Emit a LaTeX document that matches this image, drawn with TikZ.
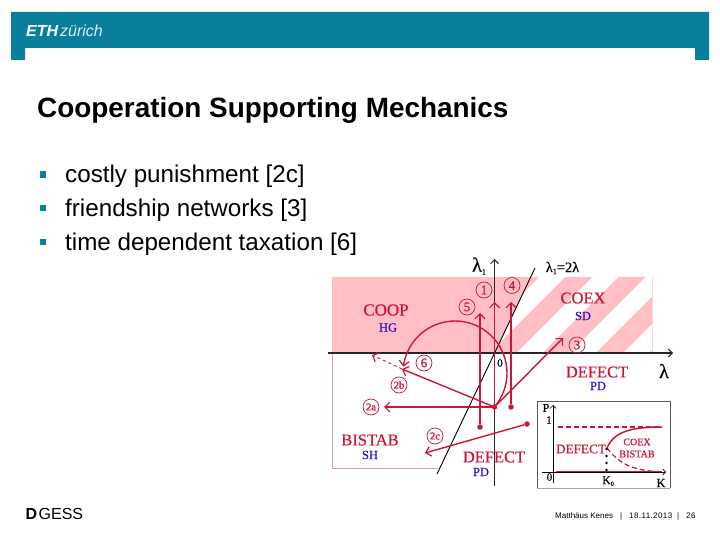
\documentclass[tikz,border=0pt]{standalone}
\usepackage{fontspec}
\setmainfont{Liberation Sans}
\newfontfamily\serf[FakeBold=0.5]{Liberation Serif}
\newfontfamily\serfb[FakeBold=1.2]{Liberation Serif}
\usetikzlibrary{arrows.meta}
\definecolor{teal}{HTML}{0A7F9B}
\definecolor{pinkfill}{HTML}{FFBFC5}
\definecolor{redd}{HTML}{CC1638}
\definecolor{bluee}{HTML}{2A10C8}
\definecolor{frameg}{HTML}{DE9CA2}
\tikzset{
 sertext/.style={inner sep=0pt,font=\serf\fontsize{#1}{#1}\selectfont},
 redtxt/.style={sertext=#1,text=redd},
 bluetxt/.style={sertext=#1,text=bluee},
 blacktxt/.style={sertext=#1,text=black},
 circ/.style={circle,draw=redd,line width=.7pt,minimum size=16pt,inner sep=0pt,text=redd,font=\serfb\fontsize{13}{13}\selectfont},
 circs/.style={circ,font=\serfb\fontsize{10.5}{10.5}\selectfont},
 arr/.style={draw=redd,line width=1.4pt,-{Straight Barb[length=5pt,width=10pt,line width=1.2pt]}},
 axis/.style={draw=black!85,line width=1.1pt,-{Straight Barb[length=4pt,width=8pt,line width=1pt]}},
 dotn/.style={circle,fill=redd,inner sep=0pt,minimum size=5.5pt},
 blk/.style={circle,fill=black,inner sep=0pt,minimum size=2.8pt},
 body/.style={inner sep=0pt,anchor=base west,font=\fontsize{24.2}{24.2}\selectfont},
 bul/.style={fill=teal,minimum size=6.5pt,inner sep=0pt},
 foot/.style={inner sep=0pt,anchor=base west,font=\fontsize{8}{8}\selectfont},
 foots/.style={foot,font=\fontsize{8}{8}\selectfont\addfontfeature{LetterSpace=5}},
}
\begin{document}
\begin{tikzpicture}[x=1pt,y=-1pt]
\useasboundingbox (0,0) rectangle (720,540);
\fill[white] (0,0) rectangle (720,540);
% header
\fill[teal] (11,12) -- (709,12) -- (709,60) -- (695,60) -- (695,48) -- (25,48) -- (25,60) -- (11,60) -- cycle;
\node[inner sep=0pt,anchor=base west,text=white,font=\bfseries\itshape\fontsize{16}{16}\selectfont] (eth) at (26,37) {ETH};
\node[inner sep=0pt,anchor=base west,text=white!85!teal,font=\itshape\fontsize{16}{16}\selectfont] (zur) at (60,37) {zürich};
% title and bullets
\node[inner sep=0pt,anchor=base west,font=\bfseries\fontsize{27.9}{27.9}\selectfont] (title) at (37,118) {Cooperation Supporting Mechanics};
\node[bul] (b1) at (43,174.5) {};
\node[bul] (b2) at (43,208) {};
\node[bul] (b3) at (43,242) {};
\node[body] (t1) at (65,183) {costly punishment [2c]};
\node[body] (t2) at (65,216.5) {friendship networks [3]};
\node[body] (t3) at (65,250) {time dependent taxation [6]};
% regions
\fill[pinkfill] (332,277) rectangle (652,353);
\begin{scope}
\clip (535,268) -- (494.6,353) -- (652,353) -- (652,268) -- cycle;
\foreach \k in {0,...,3}{
 \fill[white] ({539.3+53.3*\k},277) -- ({565+53.3*\k},277) -- ({489+53.3*\k},353) -- ({463.3+53.3*\k},353) -- cycle;
}
\end{scope}
\draw[frameg,line width=.8pt] (332,353) -- (332,468) -- (438,468);
\draw[pinkfill!70!white,line width=.5pt] (652,277) -- (652,353);
% coordinates
\coordinate (ya) at (494.5,486); \coordinate (yb) at (494.5,259);
\coordinate (xa) at (328,353); \coordinate (xb) at (673,353);
\coordinate (da) at (437,474); \coordinate (db) at (535,268);
% axes
\draw[axis] (ya) -- (yb);
\draw[axis] (xa) -- (xb);
\draw[black,line width=.9pt] (da) -- (db);
% points
\node[dotn] (p0) at (494.5,407) {};
\node[dotn] (p5) at (480,427) {};
\node[dotn] (p4) at (511,407) {};
\node[dotn] (p2c) at (527,424) {};
\coordinate (e1) at (494.5,302);
\coordinate (e4) at (511,302);
\coordinate (e5) at (480,313);
\coordinate (e2a) at (384,407);
\coordinate (e2b) at (402,369);
\coordinate (e2bd) at (372,355);
\coordinate (e3) at (563,338);
\coordinate (e2c) at (425,453);
\draw[arr] (p0) -- (e1);
\draw[arr] (p4) -- (e4);
\draw[arr,line width=2pt] (p5) -- (e5);
\draw[arr] (p0) -- (e2a);
\draw[arr] (p0) -- (e2b);
\draw[arr] (p0) -- (e3);
\draw[arr] (p2c) -- (e2c);
\draw[arr,dashed,line width=.9pt] (e2b) -- (e2bd);
\draw[arr] plot[domain=-41:173,samples=50,smooth] ({455+52*cos(\x)},{373-52*sin(\x)});
% circled labels
\node[circ] (c1) at (484,290) {1};
\node[circ] (c4) at (512,285.5) {4};
\node[circ] (c5) at (467,307) {5};
\node[circ] (c6) at (424,363) {6};
\node[circ] (c3) at (577,345) {3};
\node[circs] (c2b) at (399,385) {2b};
\node[circs] (c2a) at (371,407) {2a};
\node[circs] (c2c) at (435,436) {2c};
% labels
\node[redtxt=17] (coop) at (386,310) {COOP};
\node[bluetxt=12.5] (hg) at (388,327.5) {HG};
\node[redtxt=16.5] (coex) at (583,298) {COEX};
\node[bluetxt=12.5] (sd) at (583,316) {SD};
\node[redtxt=16.5] (def1) at (597,372) {DEFECT};
\node[bluetxt=12.5] (pd1) at (598,386) {PD};
\node[redtxt=16.5] (bis) at (370,440) {BISTAB};
\node[bluetxt=12.5] (sh) at (370,455) {SH};
\node[redtxt=16.5] (def2) at (494,457) {DEFECT};
\node[bluetxt=12.5] (pd2) at (481,472) {PD};
\node[blacktxt=20] (lam1) at (479,266) {λ\raisebox{-3pt}{\fontsize{8}{8}\selectfont 1}};
\node[blacktxt=14.5] (lam2) at (562.5,268) {λ\raisebox{-2pt}{\fontsize{8}{8}\selectfont 1}=2λ};
\node[blacktxt=20] (lam) at (664,371) {λ};
\node[blacktxt=11] (zero) at (500,363) {0};
% inset
\fill[white] (537,401) rectangle (670,488);
\draw[black!65,line width=.9pt] (537,488) -- (537,401) -- (670,401) -- (670,488);
\draw[black!35,line width=.6pt] (537,488) -- (670,488);
\coordinate (iya) at (553,483); \coordinate (iyb) at (553,405);
\coordinate (ixa) at (542,472); \coordinate (ixb) at (666,472);
\draw[black,line width=.6pt,-{Straight Barb[length=3pt,width=6pt]}] (iya) -- (iyb);
\draw[black,line width=.6pt,-{Straight Barb[length=3pt,width=6pt]}] (ixa) -- (ixb);
\coordinate (ta) at (558,427); \coordinate (tb) at (662,427);
\coordinate (ba) at (556,471.7); \coordinate (bb) at (662,471.7);
\coordinate (k1) at (607,448);
\draw[redd,line width=1.2pt,dash pattern=on 5pt off 3pt] (ta) -- (tb);
\draw[redd,line width=1.5pt] (ba) -- (bb);
\draw[redd,line width=1.5pt] (k1) .. controls (614,432) and (630,427) .. (tb);
\draw[redd,line width=1.2pt,dash pattern=on 5pt off 3pt] (k1) .. controls (618,462) and (630,471) .. (bb);
\node[blk] (d1) at (606.5,449) {};
\node[blk] (d2) at (606.5,456) {};
\node[blk] (d3) at (606.5,463) {};
\node[blk] (d4) at (606.5,470) {};
\node[blacktxt=12] (ip) at (546,408) {P};
\node[blacktxt=11] (i1) at (549,420) {1};
\node[blacktxt=11] (i0) at (549.5,477) {0};
\node[blacktxt=12] (ik0) at (608,481) {K\raisebox{-1.5pt}{\fontsize{6}{6}\selectfont 0}};
\node[blacktxt=12.5] (ik) at (661,483) {K};
\node[redtxt=13.2] (idef) at (581,449) {DEFECT};
\node[redtxt=10] (icoex) at (637,442) {COEX};
\node[redtxt=10.2] (ibis) at (637,454) {BISTAB};
% footer
\node[inner sep=0pt,anchor=base west,font=\bfseries\fontsize{16}{16}\selectfont] (dl) at (25.5,519.5) {D};
\node[inner sep=0pt,anchor=base west,font=\fontsize{16}{16}\selectfont] (gess) at (38.5,519.5) {GESS};
\node[foot] (f1) at (555,518.5) {Matthäus Kenes};
\node[foot] (f2) at (620,518.5) {|};
\node[foots] (f3) at (629,518.5) {18.11.2013};
\node[foot] (f4) at (677,518.5) {|};
\node[foots] (f5) at (686,518.5) {26};
\end{tikzpicture}
\end{document}
